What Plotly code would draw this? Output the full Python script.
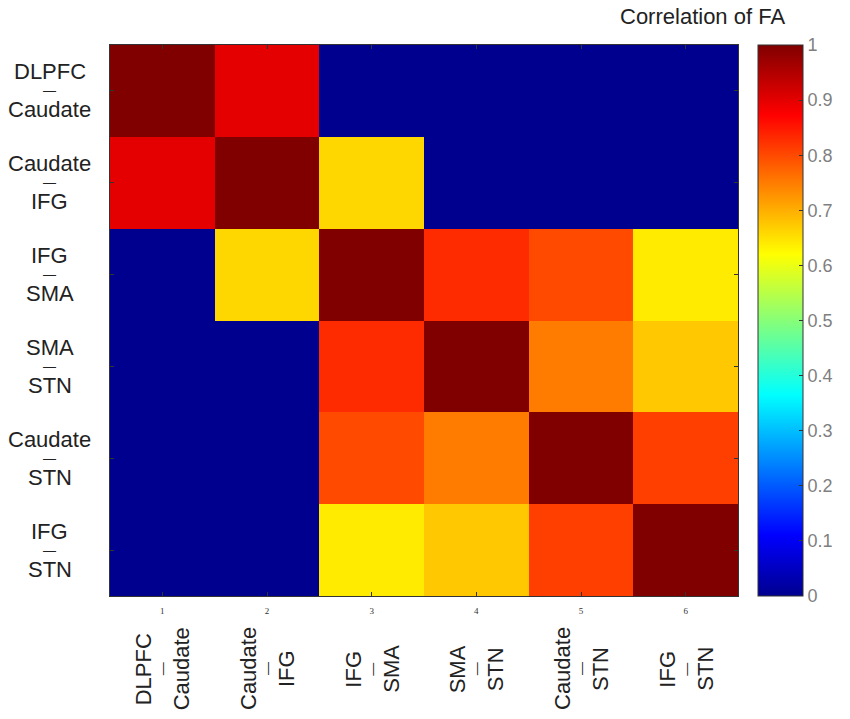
import plotly.graph_objects as go

# -------------------------
# Tract pairs and FA correlation matrix
# -------------------------
region_a = ["DLPFC", "Caudate", "IFG", "SMA", "Caudate", "IFG"]
region_b = ["Caudate", "IFG", "SMA", "STN", "STN", "STN"]
tick_numbers = ["1", "2", "3", "4", "5", "6"]

fa_corr = [
    [1.00, 0.90, 0.00, 0.00, 0.00, 0.00],
    [0.90, 1.00, 0.66, 0.00, 0.00, 0.00],
    [0.00, 0.66, 1.00, 0.83, 0.80, 0.64],
    [0.00, 0.00, 0.83, 1.00, 0.75, 0.675],
    [0.00, 0.00, 0.80, 0.75, 1.00, 0.81],
    [0.00, 0.00, 0.64, 0.675, 0.81, 1.00],
]

cbar_ticks = [0, 0.1, 0.2, 0.3, 0.4, 0.5, 0.6, 0.7, 0.8, 0.9, 1]

# matlab style jet
jet = [
    [0.0, "rgb(0,0,143)"],
    [0.11, "rgb(0,0,255)"],
    [0.365, "rgb(0,255,255)"],
    [0.62, "rgb(255,255,0)"],
    [0.873, "rgb(255,0,0)"],
    [1.0, "rgb(128,0,0)"],
]

idx = list(range(1, len(region_a) + 1))
label_font = dict(family="Liberation Sans, Arial", size=22, color="#222222")
dash_font = dict(family="Liberation Sans, Arial", size=13, color="#222222")

W, H = 850, 719
L, R, T, B = 110, 112, 45, 123
plot_w = W - L - R
plot_h = H - T - B

fig = go.Figure(go.Heatmap(
    z=fa_corr,
    x=idx,
    y=idx,
    colorscale=jet,
    zmin=0,
    zmax=1,
    colorbar=dict(
        thickness=45,
        thicknessmode="pixels",
        len=1,
        lenmode="fraction",
        x=1 + 20 / plot_w,
        xanchor="left",
        xpad=0,
        y=0.5,
        yanchor="middle",
        ypad=0,
        outlinewidth=1,
        outlinecolor="#333333",
        ticks="inside",
        ticklen=4,
        tickcolor="#333333",
        tickvals=cbar_ticks,
        ticktext=[f"{t:g}" for t in cbar_ticks],
        tickfont=dict(family="Liberation Sans, Arial", size=18, color="#7f7f7f"),
    ),
))

annotations = []
for i, (a, b) in enumerate(zip(region_a, region_b)):
    # row labels on the left
    for txt, shift, fnt in [(a, 19, label_font), ("—", 0, dash_font), (b, -19, label_font)]:
        annotations.append(dict(
            text=txt, xref="paper", x=-60 / plot_w, yref="y", y=idx[i],
            yshift=shift, xanchor="center", yanchor="middle",
            showarrow=False, font=fnt,
        ))
    # rotated column labels below
    for txt, shift, fnt in [(a, -19, label_font), ("—", 0, dash_font), (b, 19, label_font)]:
        annotations.append(dict(
            text=txt, xref="x", x=idx[i], yref="paper", y=-73 / plot_h,
            xshift=shift, xanchor="center", yanchor="middle", textangle=-90,
            showarrow=False, font=fnt,
        ))

annotations.append(dict(
    text="Correlation of FA", xref="paper", x=(702 - L) / plot_w,
    yref="paper", y=1 + (T - 16) / plot_h, xanchor="center", yanchor="middle",
    showarrow=False, font=dict(family="Liberation Sans, Arial", size=22, color="#222222"),
))

fig.update_xaxes(
    range=[0.5, 6.5],
    tickvals=idx,
    ticktext=tick_numbers,
    ticks="inside",
    ticklen=4,
    tickcolor="#333333",
    ticklabelstandoff=6,
    tickfont=dict(family="Liberation Serif, serif", size=9, color="#333333"),
    showline=True,
    linecolor="#333333",
    linewidth=1,
    mirror="ticks",
    showgrid=False,
    zeroline=False,
)
fig.update_yaxes(
    range=[6.5, 0.5],
    tickvals=idx,
    showticklabels=False,
    ticks="inside",
    ticklen=4,
    tickcolor="#333333",
    showline=True,
    linecolor="#333333",
    linewidth=1,
    mirror="ticks",
    showgrid=False,
    zeroline=False,
)
fig.update_layout(
    width=W,
    height=H,
    margin=dict(l=L, r=R, t=T, b=B),
    paper_bgcolor="white",
    plot_bgcolor="white",
    annotations=annotations,
    showlegend=False,
)
# drop the default 8px body margin so the figure fills the window
fig.write_html(
    "out.html",
    config={"displayModeBar": False},
    post_script="document.body.style.margin='0px';",
)
